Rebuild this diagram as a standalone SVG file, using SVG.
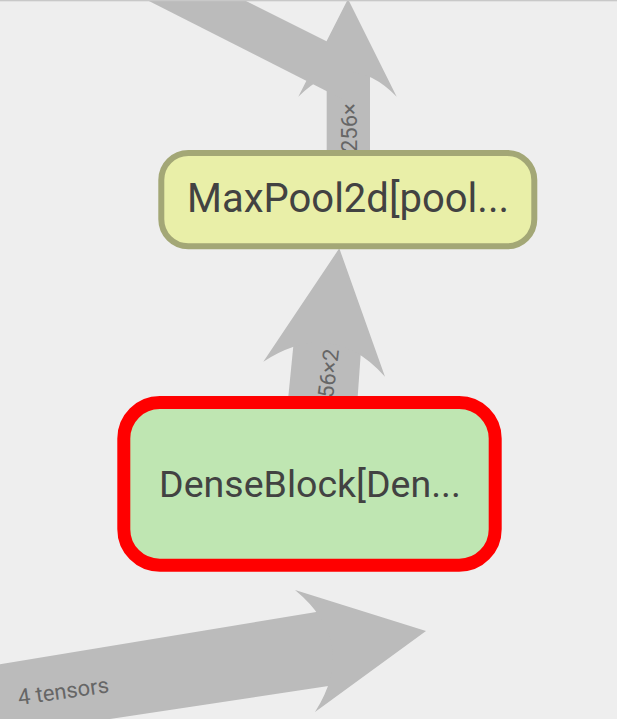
<svg xmlns="http://www.w3.org/2000/svg" width="617" height="719" viewBox="0 0 617 719">
<style>
.edge{fill:#bbbbbb;stroke:none}
.elabel{font-family:Roboto,"Liberation Sans",sans-serif;font-size:22px;fill:#666666}
.ntext{font-family:Roboto,"Liberation Sans",sans-serif;fill:#424242;text-anchor:middle}
</style>
<rect x="0" y="0" width="617" height="719" fill="#eeeeee"/>
<g id="connectors">
  <!-- vertical arrow out of MaxPool -->
  <path class="edge" d="M326.7,55 L370,55 L370,160 L326.7,160 Z"/>
  <path class="edge" d="M348,-1 L396.7,96.7 Q348.5,47.3 298.3,96.7 Z"/>
  <text class="elabel" transform="translate(357,152) rotate(-90)">256×</text>
  <!-- diagonal band from upper left -->
  <path class="edge" d="M143,-2 L240,-2 L348,52 L348,102 Z"/>
  <!-- DenseBlock -> MaxPool -->
  <path class="edge" d="M295.4,325 L362.8,325 L356,420 L286,420 Z"/>
  <path class="edge" d="M339.3,248.3 L385,376.7 Q331.8,316.8 263.3,361.7 Z"/>
  <text class="elabel" text-anchor="end" transform="translate(339,350) rotate(-83)">56×2</text>
  <!-- bottom arrow -->
  <path class="edge" d="M-5,665 L345,607.2 L345,683.4 L110,719 L-5,740 Z"/>
  <path class="edge" d="M426,631 L315,712 Q359,643 295,590 Z"/>
  <text class="elabel" transform="translate(19,705) rotate(-8)">4 tensors</text>
</g>
<rect x="0" y="0" width="617" height="1.3" fill="#c8c8c8"/>
<g id="node-maxpool">
  <rect x="161.3" y="153" width="373" height="93.3" rx="27" ry="27" fill="#e9efa8" stroke="#a3a776" stroke-width="6"/>
  <text class="ntext" x="348" y="211.7" font-size="40">MaxPool2d[pool...</text>
</g>
<g id="node-denseblock">
  <rect x="123.8" y="402.5" width="371.4" height="162.7" rx="36" ry="36" fill="#bfe6b2" stroke="#ff0000" stroke-width="13"/>
  <text class="ntext" x="310" y="496.7" font-size="37.5">DenseBlock[Den...</text>
</g>
</svg>
